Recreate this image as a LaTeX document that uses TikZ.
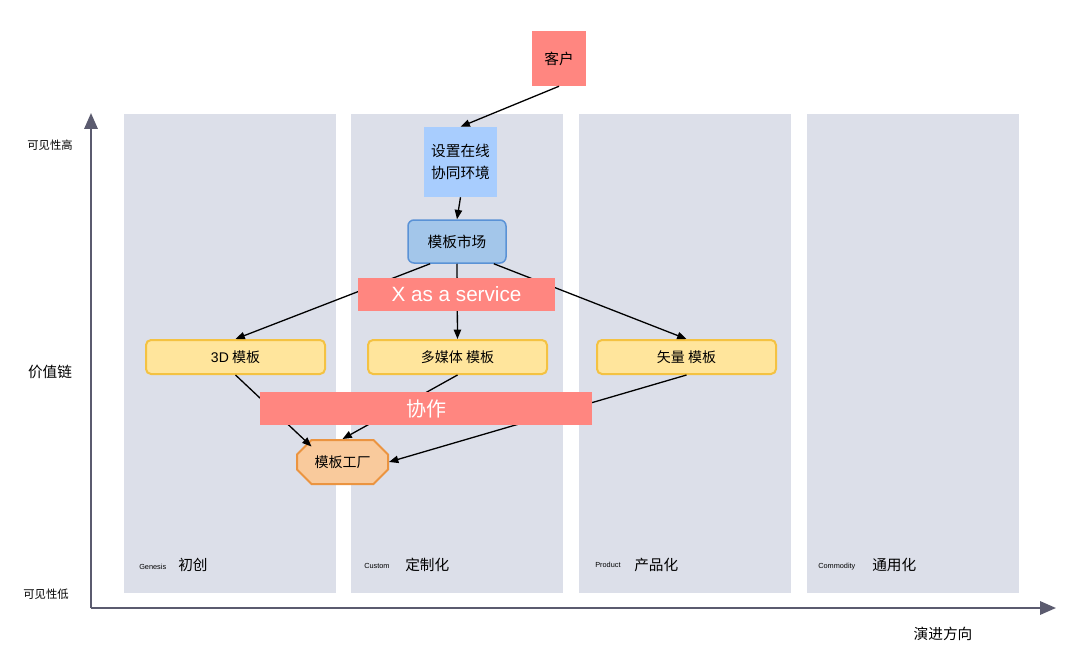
\documentclass[tikz,border=0pt]{standalone}
\usepackage{fontspec}
\setmainfont{Noto Sans CJK SC}
\newfontfamily\latinfont{Liberation Sans}
\usetikzlibrary{arrows.meta,shapes.misc,calc}
\definecolor{colbg}{RGB}{220,223,233}
\definecolor{banner}{RGB}{255,134,128}
\definecolor{lblue}{RGB}{168,205,254}
\definecolor{mfill}{RGB}{163,198,234}
\definecolor{mdraw}{RGB}{90,146,214}
\definecolor{yfill}{RGB}{255,229,156}
\definecolor{ydraw}{RGB}{244,194,66}
\definecolor{ofill}{RGB}{249,202,156}
\definecolor{odraw}{RGB}{235,148,64}
\definecolor{axis}{RGB}{91,91,111}
\def\px{0.75pt}
\tikzset{
  colbox/.style={fill=colbg,draw=none},
  redbox/.style={fill=banner,draw=none,inner sep=0pt,font=\fontsize{11}{13}\selectfont},
  banner/.style={fill=banner,draw=none,inner sep=0pt,text=white},
  bluebox/.style={fill=lblue,draw=none,inner sep=0pt,align=center,font=\fontsize{11}{17}\selectfont},
  market/.style={fill=mfill,draw=mdraw,line width=1.5pt*0.75,rounded corners=6*\px,inner sep=0pt,font=\fontsize{11}{13}\selectfont},
  tmpl/.style={fill=yfill,draw=ydraw,line width=2*\px,rounded corners=5*\px,inner sep=0pt,minimum width=179*\px,minimum height=34*\px,font=\fontsize{10.5}{12}\selectfont},
  factory/.style={chamfered rectangle,chamfered rectangle xsep=8*\px,chamfered rectangle ysep=8*\px,fill=ofill,draw=odraw,line width=2*\px,inner sep=0pt,minimum width=91*\px,minimum height=44*\px,font=\fontsize{10.5}{12}\selectfont},
  conn/.style={draw=black,line width=1.3*\px,-{Triangle[length=7pt,width=5.5pt]}},
  axisline/.style={draw=axis,line width=2.2*\px,-{Triangle[length=12pt,width=10pt]}},
  small/.style={font=\fontsize{8.5}{10}\selectfont},
  mid/.style={font=\fontsize{11}{13}\selectfont},
  tiny/.style={font=\latinfont\fontsize{5.5}{6}\selectfont,inner sep=0pt},
  collabel/.style={font=\fontsize{11}{13}\selectfont,inner sep=0pt},
}
\begin{document}
\begin{tikzpicture}[x=0.75pt,y=-0.75pt]
\useasboundingbox (0,0) rectangle (1080,663);
\fill[white] (0,0) rectangle (1080,663);
% columns
\path[colbox] (124,114) rectangle (336,593);
\path[colbox] (351,114) rectangle (563,593);
\path[colbox] (579,114) rectangle (791,593);
\path[colbox] (807,114) rectangle (1019,593);
% column labels
\node[tiny,anchor=west] (g1) at (139,567) {Genesis};
\node[collabel,anchor=west] (g2) at (178,565) {初创};
\node[tiny,anchor=west] (c1) at (364,566) {Custom};
\node[collabel,anchor=west] (c2) at (405,565) {定制化};
\node[tiny,anchor=west] (p1) at (595,565) {Product};
\node[collabel,anchor=west] (p2) at (634,565) {产品化};
\node[tiny,anchor=west] (m1) at (818,567) {Commodity};
\node[collabel,anchor=west] (m2) at (872,565) {通用化};
% axes
\coordinate (o) at (91,608);
\coordinate (ytop) at (91,113);
\coordinate (xend) at (1056,608);
\draw[axisline] (o) -- (ytop);
\draw[axisline] (o) -- (xend);
\node[small] (vh) at (50,145) {可见性高};
\node[mid] (vc) at (50,372) {价值链};
\node[small] (vl) at (46,594) {可见性低};
\node[mid] (dir) at (943,634) {演进方向};
% nodes
\node[redbox,minimum width=54*\px,minimum height=55*\px] (kehu) at (559,58.5) {客户};
\node[bluebox,minimum width=73*\px,minimum height=70*\px] (shezhi) at (460.5,162) {设置在线\\协同环境};
\node[market,minimum width=98*\px,minimum height=43*\px] (shichang) at (457,241.5) {模板市场};
\node[tmpl] (m3d) at (235.5,357) {{\latinfont 3D} 模板};
\node[tmpl] (mmt) at (457.5,357) {多媒体 模板};
\node[tmpl] (slmb) at (686.5,357) {矢量 模板};
\node[factory] (gc) at (342.5,462) {模板工厂};
% connectors
\draw[conn] (kehu.south) -- (shezhi.north);
\draw[conn] (shezhi.south) -- (shichang.north);
\draw[conn] ($(shichang.south west)!0.23!(shichang.south east)$) -- (m3d.north);
\draw[conn] (shichang.south) -- (mmt.north);
\draw[conn] ($(shichang.south west)!0.87!(shichang.south east)$) -- (slmb.north);
\draw[conn] (m3d.south) -- ($(gc.north west)+(8,0)$);
\draw[conn] (mmt.south) -- (gc.north);
\draw[conn] (slmb.south) -- (gc.east);
% banners on top
\node[banner,minimum width=197*\px,minimum height=33*\px,font=\latinfont\fontsize{15.5}{17}\selectfont] (xaas) at (456.5,294.5) {X as a service};
\node[banner,minimum width=332*\px,minimum height=33*\px,font=\fontsize{15}{17}\selectfont] (xz) at (426,408.5) {协作};
\end{tikzpicture}
\end{document}
